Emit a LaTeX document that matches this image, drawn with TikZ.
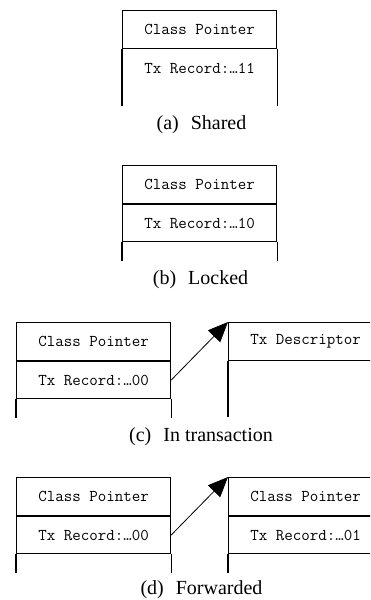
\documentclass[tikz,border=0pt]{standalone}
\usepackage{fontspec}
\setmainfont{Liberation Serif}
\usetikzlibrary{arrows.meta}
\tikzset{
  cell/.style={draw, line width=1.2pt, rectangle, minimum width=154pt, minimum height=37.5pt,
    inner sep=0pt, anchor=north west, font=\fontsize{16.5}{18}\selectfont\ttfamily},
  blank/.style={cell, draw=none},
  side/.style={line width=1.2pt},
  ptr/.style={line width=0.8pt, -{Triangle[length=20pt,width=17pt]}},
  captext/.style={font=\fontsize{20}{22}\selectfont, inner sep=0pt},
}
\begin{document}
\begin{tikzpicture}[x=1pt,y=-1pt]
\useasboundingbox (0,0) rectangle (370,600);
\clip (0,0) rectangle (370,600);
% (a) Shared
\node[cell]  (a1) at (122,10) {Class Pointer};
\node[blank] (a2) at (a1.south west) {Tx Record:…11};
\draw[side] (a1.south west) -- ++(0,57);
\draw[side] (a1.south east) -- ++(0,57);
\node[captext] (capa) at (201.5,125) {(a)\hspace{0.6em}Shared};
% (b) Locked
\node[cell] (b1) at (122,165) {Class Pointer};
\node[cell] (b2) at (b1.south west) {Tx Record:…10};
\draw[side] (b2.south west) -- ++(0,19);
\draw[side] (b2.south east) -- ++(0,19);
\node[captext] (capb) at (200.5,280) {(b)\hspace{0.6em}Locked};
% (c) In transaction
\node[cell] (c1) at (16,322) {Class Pointer};
\node[cell] (c2) at (c1.south west) {Tx Record:…00};
\draw[side] (c2.south west) -- ++(0,18.5);
\draw[side] (c2.south east) -- ++(0,18.5);
\node[cell] (cd) at (228,322) {Tx Descriptor};
\draw[side] (cd.south west) -- ++(0,56);
\draw[side] (cd.south east) -- ++(0,56);
\draw[ptr] (c2.east) -- (cd.north west);
\node[captext] (capc) at (201,437) {(c)\hspace{0.6em}In transaction};
% (d) Forwarded
\node[cell] (d1) at (16,477) {Class Pointer};
\node[cell] (d2) at (d1.south west) {Tx Record:…00};
\draw[side] (d2.south west) -- ++(0,19);
\draw[side] (d2.south east) -- ++(0,19);
\node[cell] (e1) at (228,477) {Class Pointer};
\node[cell] (e2) at (e1.south west) {Tx Record:…01};
\draw[side] (e2.south west) -- ++(0,19);
\draw[side] (e2.south east) -- ++(0,19);
\draw[ptr] (d2.east) -- (e1.north west);
\node[captext] (capd) at (201.5,590) {(d)\hspace{0.6em}Forwarded};
\end{tikzpicture}
\end{document}
